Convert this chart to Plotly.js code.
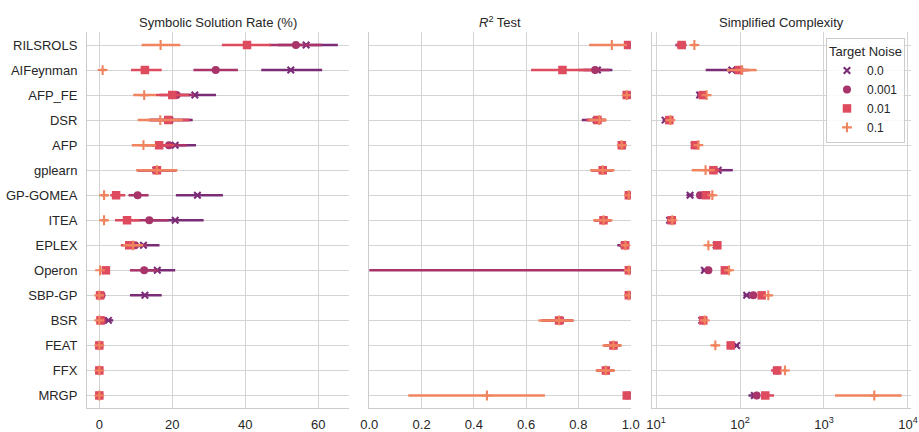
<!DOCTYPE html>
<html>
<head>
<meta charset="utf-8">
<script src="https://cdn.plot.ly/plotly-3.0.1.min.js"></script>
<style>html,body{margin:0;padding:0;background:#fff;}#chart{width:919px;height:432px;}</style>
</head>
<body>
<div id="chart"></div>
<script>
// Algorithms (rows, top to bottom)
const algorithms = ["RILSROLS","AIFeynman","AFP_FE","DSR","AFP","gplearn","GP-GOMEA","ITEA","EPLEX","Operon","SBP-GP","BSR","FEAT","FFX","MRGP"];
const noiseLevels = ["0.0","0.001","0.01","0.1"];

// Symbolic Solution Rate (%) : [value, low, high]
const rate_n0 = [[56.7,49,65.4],[52.5,44.4,61.1],[26.2,20.5,32.0],[19.3,14,25.6],[20.8,16,26.5],[15.5,10.5,21],[26.9,21.0,33.9],[20.8,13.5,28.6],[12.1,8.5,16.5],[15.9,11.5,20.8],[12.5,8.4,17.1],[2.5,1.2,3.8],[0,0,0],[0,0,0],[0,0,0]];
const rate_n1 = [[53.9,46.5,61],[31.9,25.8,38.0],[21.2,16.5,26],[19.0,13.5,25],[19.1,14.5,24],[15.8,10.5,21],[10.5,8.0,13.5],[13.7,9,19],[9.8,7,13],[12.3,8.4,16.2],[0.6,0.1,1.3],[0.9,0.2,1.8],[0,0,0],[0,0,0],[0,0,0]];
const rate_n2 = [[40.5,33.6,47],[12.5,8.7,17.1],[20.0,15.5,24.5],[18.9,13.5,24.5],[16.4,12.5,20.5],[15.8,10.5,21.2],[4.6,3.0,7.1],[7.6,4.3,11],[8.2,5.9,10.8],[1.8,0.8,2.9],[0.2,0,0.6],[0.3,0,0.8],[0,0,0],[0,0,0],[0,0,0]];
const rate_n3 = [[16.8,11.6,22.2],[0.9,0.3,1.8],[12.3,9.3,15.5],[16.7,10.5,22.9],[12.1,8.9,15.5],[15.8,10.1,21.4],[1.3,0.4,2.5],[1.3,0.5,2.3],[9.3,6.5,12],[0.2,0,0.7],[0,0,0.2],[0,0,0.2],[0,0,0],[0,0,0],[0,0,0]];

// R^2 Test : [value, low, high]
const r2_n0 = [[0.995,0.99,0.999],[0.873,0.82,0.930],[0.99,0.985,0.995],[0.868,0.813,0.9],[0.968,0.955,0.975],[0.893,0.85,0.93],[0.995,0.99,0.999],[0.896,0.86,0.925],[0.975,0.949,0.985],[0.995,0.99,1.0],[0.995,0.99,0.999],[0.73,0.66,0.78],[0.935,0.9,0.96],[0.905,0.87,0.935],[0.99,0.98,0.995]];
const r2_n1 = [[0.995,0.99,0.999],[0.864,0.80,0.92],[0.99,0.985,0.995],[0.873,0.83,0.905],[0.968,0.955,0.975],[0.893,0.85,0.93],[0.995,0.99,0.999],[0.896,0.86,0.925],[0.978,0.955,0.99],[0.995,-3.0,1.0],[0.995,0.99,0.999],[0.73,0.66,0.78],[0.935,0.9,0.96],[0.905,0.87,0.935],[0.99,0.98,0.995]];
const r2_n2 = [[0.99,0.985,0.995],[0.739,0.619,0.85],[0.985,0.98,0.99],[0.873,0.83,0.905],[0.966,0.955,0.975],[0.893,0.85,0.93],[0.993,0.99,0.997],[0.896,0.86,0.925],[0.979,0.965,0.99],[0.993,0.99,0.997],[0.993,0.99,0.997],[0.726,0.66,0.78],[0.934,0.9,0.96],[0.905,0.87,0.935],[0.985,0.975,0.995]];
const r2_n3 = [[0.928,0.841,0.985],[null,null,null],[0.985,0.98,0.99],[0.88,0.84,0.908],[0.966,0.955,0.975],[0.893,0.845,0.938],[0.993,0.99,0.997],[0.896,0.857,0.930],[0.98,0.97,0.99],[0.993,0.985,0.998],[0.993,0.99,0.997],[0.726,0.647,0.781],[0.934,0.892,0.966],[0.905,0.866,0.940],[0.450,0.149,0.672]];

// Simplified Complexity : [value, low, high]
const cx_n0 = [[20,17,23],[80,39,110],[33,31,36],[12.8,12,13.8],[28.5,27,30],[55,45,82],[25.4,23,28],[14.5,13.8,15.5],[52,49,56],[37.6,35,40],[120,110,130],[35,33,37.5],[91,84,97],[270,250,290],[148,126,165]];
const cx_n1 = [[20,17.5,22.5],[97,70,130],[35,33,37.5],[14,13,15],[29,27.5,30.5],[48,42,60],[33.4,31,36],[15,14,16],[53,50,56],[42,39,45],[144,135,155],[36,34,38],[78,73,84],[275,255,295],[158,145,172]];
const cx_n2 = [[20.2,17.5,23],[97,80,120],[36,34,38.5],[14.4,13.5,15.3],[29.1,27.5,30.5],[48.2,43,56],[39.4,36,43],[15.4,14.5,16.3],[53.7,50.5,57],[66,62,71],[181,170,193],[36.5,34.5,38.5],[77.4,72,83],[278,234,300],[200,180,254]];
const cx_n3 = [[28.6,26,31],[105,70,158],[40,38,42],[14.8,14,15.6],[31.9,30.5,33.5],[38.9,26.6,50],[46.8,44,50],[15.6,14.8,16.5],[42,39.5,44.5],[74,69,79],[217,205,230],[38,36,40],[50.8,47.5,54],[343,325,362],[3970,1353,8420]];

const complexityTicks = [10,100,1000,10000];
const complexityTickText = ["10<sup>1</sup>","10<sup>2</sup>","10<sup>3</sup>","10<sup>4</sup>"];

const colors = ["#7b2c77","#a8346a","#de4b5e","#f0845f"];
const symbols = ["x-thin","circle","square","cross-thin"];
const sizes = [6.5,8,8.5,7];

const panels = [
  {data:[rate_n0,rate_n1,rate_n2,rate_n3], xa:"x", ya:"y"},
  {data:[r2_n0,r2_n1,r2_n2,r2_n3], xa:"x2", ya:"y2"},
  {data:[cx_n0,cx_n1,cx_n2,cx_n3], xa:"x3", ya:"y3"}
];

const traces = [];
panels.forEach((p, pi) => {
  p.data.forEach((series, k) => {
    const thin = symbols[k].indexOf("thin") >= 0;
    traces.push({
      type: "scatter", mode: "markers",
      x: series.map(d => d[0]),
      y: algorithms,
      xaxis: p.xa, yaxis: p.ya,
      name: noiseLevels[k],
      legendgroup: noiseLevels[k],
      showlegend: pi === 2,
      marker: {symbol: symbols[k], size: sizes[k], color: colors[k],
               line: {width: thin ? 2.1 : 0, color: colors[k]}},
      error_x: {type: "data", symmetric: false,
                array: series.map(d => d[0] === null ? null : d[2] - d[0]),
                arrayminus: series.map(d => d[0] === null ? null : d[0] - d[1]),
                color: colors[k], thickness: 2.5, width: 0},
      hoverinfo: "x+y+name"
    });
  });
});

const fontFam = "Liberation Sans, Arial, sans-serif";
const gridC = "#d4d4d4";
const yBase = {type:"category", categoryarray: algorithms, categoryorder:"array",
  range:[14.5,-0.52], autorange:false, showgrid:true, gridcolor:gridC, gridwidth:1,
  showline:true, linecolor:"#cccccc", linewidth:1, ticks:"", zeroline:false, fixedrange:true};
const xBase = {showgrid:true, gridcolor:gridC, gridwidth:1, zeroline:false,
  showline:true, linecolor:"#cccccc", linewidth:1, ticks:"", ticklabelstandoff:4};

const layout = {
  width: 919, height: 432,
  margin: {l:87, r:8, t:32, b:24},
  paper_bgcolor:"#fff", plot_bgcolor:"#fff",
  font: {family: fontFam, size: 13, color:"#262626"},
  showlegend: true,
  xaxis: Object.assign({}, xBase, {domain:[0,0.3177], range:[-3.38,68.4], tickvals:[0,20,40,60], anchor:"y"}),
  xaxis2: Object.assign({}, xBase, {domain:[0.3426,0.6598], range:[0,1], tickvals:[0,0.2,0.4,0.6,0.8,1.0], ticktext:["0.0","0.2","0.4","0.6","0.8","1.0"], anchor:"y2"}),
  xaxis3: Object.assign({}, xBase, {domain:[0.6857,1], type:"log", range:[0.952,4.036], tickvals:complexityTicks, ticktext:complexityTickText, anchor:"y3"}),
  yaxis: Object.assign({}, yBase, {anchor:"x", ticklabelstandoff:6}),
  yaxis2: Object.assign({}, yBase, {anchor:"x2", showticklabels:false}),
  yaxis3: Object.assign({}, yBase, {anchor:"x3", showticklabels:false}),
  legend: {x:0.9927, xanchor:"right", y:0.984, yanchor:"top",
    bgcolor:"rgba(255,255,255,0.85)", bordercolor:"#cccccc", borderwidth:1,
    title:{text:"Target Noise", side:"top center", font:{size:13}},
    font:{size:12}, tracegroupgap:0},
  annotations: [
    {text:"Symbolic Solution Rate (%)", xref:"x domain", yref:"paper", x:0.5, y:1, yanchor:"middle", yshift:10, showarrow:false, font:{size:13}},
    {text:"<i>R</i><sup>2</sup> Test", xref:"x2 domain", yref:"paper", x:0.5, y:1, yanchor:"middle", yshift:10, showarrow:false, font:{size:13}},
    {text:"Simplified Complexity", xref:"x3 domain", yref:"paper", x:0.5, y:1, yanchor:"middle", yshift:10, showarrow:false, font:{size:13}}
  ]
};

Plotly.newPlot("chart", traces, layout, {displayModeBar:false, staticPlot:true});
</script>
</body>
</html>
